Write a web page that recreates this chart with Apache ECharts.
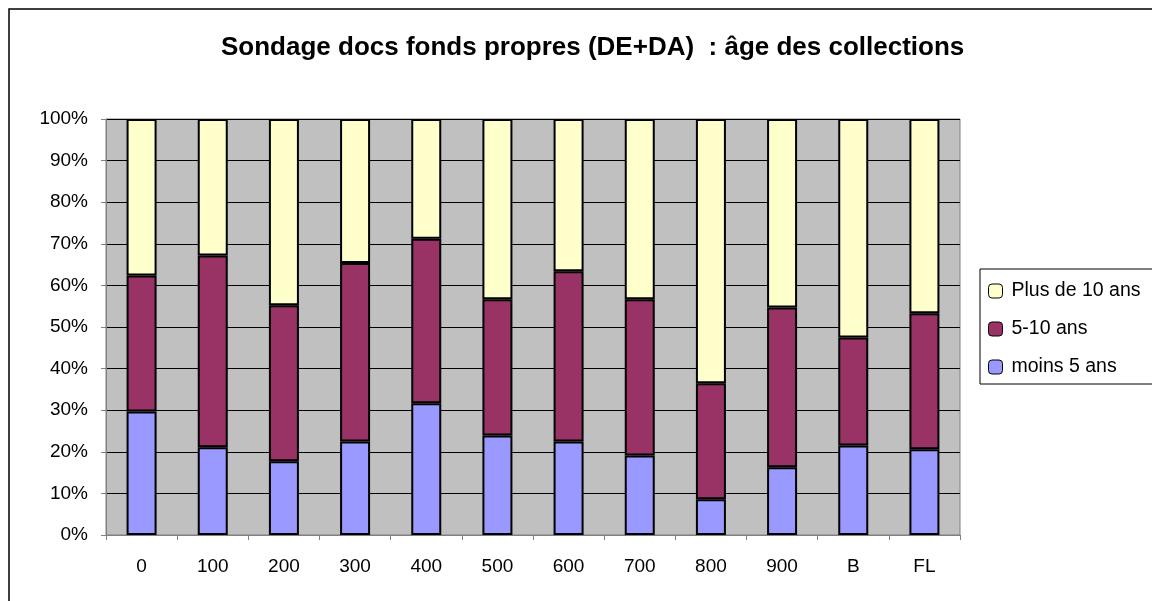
<!DOCTYPE html>
<html>
<head>
<meta charset="utf-8">
<script src="https://cdn.jsdelivr.net/npm/echarts@6/dist/echarts.min.js"></script>
<style>
  html, body { margin: 0; padding: 0; background: #fff; }
  #chart { width: 1152px; height: 601px; }
</style>
</head>
<body>
<div id="chart"></div>
<script>
// categories (Dewey classes + B, FL)
var categories = ['0', '100', '200', '300', '400', '500', '600', '700', '800', '900', 'B', 'FL']
// percentages, each column sums to 100
var moins5 = [29.7, 21.1, 17.7, 22.5, 31.7, 23.9, 22.5, 19.1, 8.6, 16.3, 21.5, 20.6]
var ans5a10 = [32.7, 46.1, 37.5, 42.9, 39.5, 32.8, 40.9, 37.6, 27.9, 38.4, 26.0, 32.7]
var plus10 = [37.6, 32.8, 44.8, 34.6, 28.8, 43.3, 36.6, 43.3, 63.5, 45.3, 52.5, 46.7]

var font = "'Liberation Sans', Arial, sans-serif"

var chart = echarts.init(document.getElementById('chart'))

function barSerie(name, data, color) {
  return {
    name: name,
    type: 'bar',
    stack: 'total',
    barWidth: 30,
    data: data,
    itemStyle: {
      color: color,
      borderColor: '#000',
      borderWidth: 2
    },
    animation: false
  }
}

chart.setOption({
  backgroundColor: '#fff',
  title: {
    text: 'Sondage docs fonds propres (DE+DA)  : âge des collections',
    left: 216,
    top: 30,
    textStyle: {
      fontFamily: font,
      fontSize: 26,
      fontWeight: 'bold',
      color: '#000'
    }
  },
  grid: {
    left: 106,
    right: 192,
    top: 119,
    bottom: 66,
    show: true,
    backgroundColor: '#c0c0c0',
    borderColor: '#808080',
    borderWidth: 1
  },
  legend: {
    data: ['Plus de 10 ans', '5-10 ans', 'moins 5 ans'],
    orient: 'vertical',
    left: 980,
    top: 269,
    padding: [12, 40, 7, 8],
    itemGap: 18,
    itemWidth: 14,
    itemHeight: 14,
    itemStyle: { borderColor: '#000', borderWidth: 1 },
    borderColor: '#000',
    borderWidth: 1,
    textStyle: { fontFamily: font, fontSize: 19.5, color: '#000', padding: [0, 0, 0, 4] }
  },
  xAxis: {
    type: 'category',
    data: categories,
    axisLine: { lineStyle: { color: '#808080', width: 1 } },
    axisTick: { show: true, length: 5, lineStyle: { color: '#808080' } },
    axisLabel: { margin: 22, fontFamily: font, fontSize: 19, color: '#000' }
  },
  yAxis: {
    type: 'value',
    min: 0,
    max: 100,
    interval: 10,
    axisLine: { show: true, lineStyle: { color: '#808080', width: 1 } },
    axisTick: { show: true, length: 5, lineStyle: { color: '#808080' } },
    splitLine: { lineStyle: { color: '#000', width: 1 } },
    axisLabel: { formatter: '{value}%', margin: 18, fontFamily: font, fontSize: 19, color: '#000' }
  },
  graphic: [{
    type: 'rect',
    shape: { x: 9, y: 9, width: 1300, height: 800 },
    style: { fill: 'none', stroke: '#000', lineWidth: 1.5 },
    silent: true
  }],
  series: [
    barSerie('moins 5 ans', moins5, '#9999ff'),
    barSerie('5-10 ans', ans5a10, '#993366'),
    barSerie('Plus de 10 ans', plus10, '#ffffcc')
  ]
})
</script>
</body>
</html>
